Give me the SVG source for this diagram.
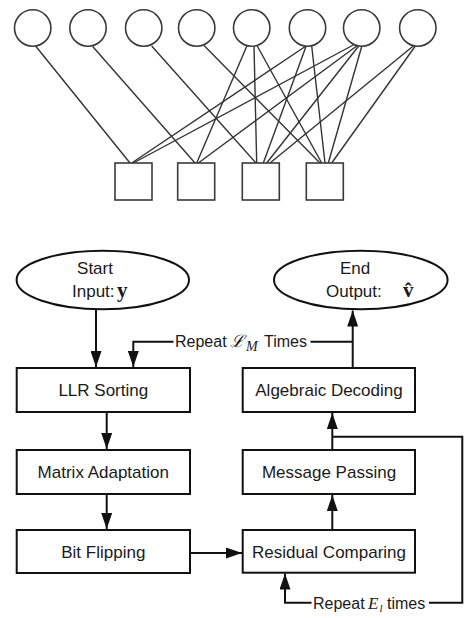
<svg xmlns="http://www.w3.org/2000/svg" width="472" height="618" viewBox="0 0 472 618">
<defs>
<style>
.vn{fill:#fff;stroke:#3a3a3a;stroke-width:1.6}
.cn{fill:#fff;stroke:#3a3a3a;stroke-width:1.6}
.e{stroke:#333;stroke-width:1.4;fill:none}
.box{fill:#fff;stroke:#111;stroke-width:2}
.term{fill:#fff;stroke:#111;stroke-width:2}
.lbl{font-family:"Liberation Sans",Arial,sans-serif;font-size:17px;fill:#1a1a1a;text-anchor:middle}
.loop{font-family:"Liberation Sans",Arial,sans-serif;font-size:16px;fill:#1a1a1a}
.math{font-family:"Liberation Serif","DejaVu Serif",serif}
.c{stroke:#111;stroke-width:2;fill:none}
</style>
<marker id="ah" markerUnits="userSpaceOnUse" markerWidth="16" markerHeight="11" refX="16" refY="5.5" orient="auto">
<path d="M0,0 L16,5.5 L0,11 z" fill="#111"/>
</marker>
</defs>

<g id="tanner-edges">
<line class="e" x1="36" y1="46.5" x2="130" y2="163"/>
<line class="e" x1="92.7" y1="46.5" x2="195" y2="163"/>
<line class="e" x1="151.7" y1="46" x2="256" y2="163"/>
<line class="e" x1="204" y1="45.5" x2="320" y2="163"/>
<line class="e" x1="247.3" y1="45" x2="196.7" y2="163"/>
<line class="e" x1="254" y1="46" x2="256.7" y2="163"/>
<line class="e" x1="256.7" y1="45" x2="321.7" y2="163"/>
<line class="e" x1="306" y1="46" x2="131.7" y2="163"/>
<line class="e" x1="306" y1="46.5" x2="263.3" y2="163"/>
<line class="e" x1="311.7" y1="46" x2="325" y2="163"/>
<line class="e" x1="353.3" y1="45" x2="133.3" y2="163"/>
<line class="e" x1="356.7" y1="46" x2="198.3" y2="163"/>
<line class="e" x1="358.3" y1="46.5" x2="266.7" y2="163"/>
<line class="e" x1="361.7" y1="46.5" x2="328.3" y2="163"/>
<line class="e" x1="413.3" y1="46" x2="270" y2="163"/>
<line class="e" x1="415" y1="46.5" x2="331.7" y2="163"/>
</g>

<g id="v1"><circle class="vn" cx="32.7" cy="28" r="18.2"/></g>
<g id="v2"><circle class="vn" cx="88" cy="28" r="18.2"/></g>
<g id="v3"><circle class="vn" cx="143.7" cy="28" r="18.2"/></g>
<g id="v4"><circle class="vn" cx="196.7" cy="28" r="18.2"/></g>
<g id="v5"><circle class="vn" cx="251.7" cy="28" r="18.2"/></g>
<g id="v6"><circle class="vn" cx="307.5" cy="28" r="18.2"/></g>
<g id="v7"><circle class="vn" cx="361.7" cy="28" r="18.2"/></g>
<g id="v8"><circle class="vn" cx="417.8" cy="28" r="18.2"/></g>

<g id="c1"><rect class="cn" x="115" y="163" width="37" height="37"/></g>
<g id="c2"><rect class="cn" x="177.7" y="163" width="37" height="37"/></g>
<g id="c3"><rect class="cn" x="242.3" y="163" width="37" height="37"/></g>
<g id="c4"><rect class="cn" x="306.3" y="163" width="37" height="37"/></g>

<g id="connectors">
<path class="c" d="M96 310 V367" marker-end="url(#ah)"/>
<path class="c" d="M173.5 341.7 H133.3 V367" marker-end="url(#ah)"/>
<path class="c" d="M352.7 368 V310.5" marker-end="url(#ah)"/>
<path class="c" d="M310.5 341.7 H352.7"/>
<path class="c" d="M106.7 412 V449" marker-end="url(#ah)"/>
<path class="c" d="M106.7 494 V529" marker-end="url(#ah)"/>
<path class="c" d="M190 553 H242" marker-end="url(#ah)"/>
<path class="c" d="M332.3 530 V495" marker-end="url(#ah)"/>
<path class="c" d="M332.3 450 V413" marker-end="url(#ah)"/>
<path class="c" d="M332.3 436.7 H462.3 V602.7 H429"/>
<path class="c" d="M311.5 602.7 H285 V573.5" marker-end="url(#ah)"/>
</g>

<g id="start">
<ellipse class="term" cx="102.8" cy="280" rx="86.2" ry="29.3"/>
<text class="lbl" x="95" y="274">Start</text>
<text class="lbl" x="72" y="297" style="text-anchor:start">Input:<tspan class="math" font-weight="bold" font-size="21" x="117">y</tspan></text>
</g>

<g id="end">
<ellipse class="term" cx="360.8" cy="280" rx="86.8" ry="29.3"/>
<text class="lbl" x="355" y="274">End</text>
<text class="lbl" x="326" y="297" style="text-anchor:start">Output:<tspan class="math" font-weight="bold" font-size="21" x="403">v̂</tspan></text>
</g>

<g id="llr"><rect class="box" x="16.7" y="368" width="173.3" height="44"/><text class="lbl" x="103.3" y="396">LLR Sorting</text></g>
<g id="matrix"><rect class="box" x="16.7" y="450" width="173.3" height="44"/><text class="lbl" x="103.3" y="478">Matrix Adaptation</text></g>
<g id="bitflip"><rect class="box" x="16.7" y="530" width="173.3" height="43"/><text class="lbl" x="103.3" y="557.5">Bit Flipping</text></g>
<g id="algebraic"><rect class="box" x="242.7" y="368" width="172.3" height="44"/><text class="lbl" x="329" y="396">Algebraic Decoding</text></g>
<g id="message"><rect class="box" x="242.7" y="450" width="172.3" height="44"/><text class="lbl" x="329" y="478">Message Passing</text></g>
<g id="residual"><rect class="box" x="242.7" y="530" width="172.3" height="42.7"/><text class="lbl" x="329" y="557.5">Residual Comparing</text></g>

<g id="label-lm">
<text class="loop" x="175" y="347">Repeat<tspan class="math" font-style="italic" font-size="17" x="229.5">ℒ</tspan><tspan class="math" font-style="italic" font-size="14" x="246" dy="4">M</tspan><tspan x="264" dy="-4">Times</tspan></text>
</g>
<g id="label-el">
<text class="loop" x="313" y="609">Repeat<tspan class="math" font-style="italic" font-size="17" x="368">E</tspan><tspan class="math" font-style="italic" font-size="11" x="379.5" dy="3">l</tspan><tspan x="387" dy="-3">times</tspan></text>
</g>
</svg>
